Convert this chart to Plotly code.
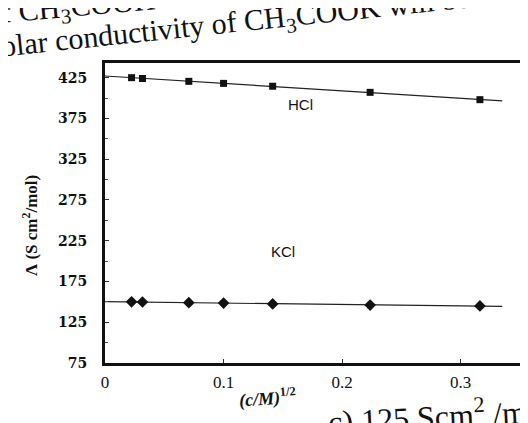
import numpy as np
import plotly.graph_objects as go

# data
sqrt_c = [0.0224, 0.0316, 0.0707, 0.1000, 0.1414, 0.2236, 0.3162]
hcl = [425.0, 424.0, 420.5, 418.0, 414.5, 407.0, 398.0]
kcl = [150.0, 149.8, 149.0, 148.5, 147.5, 146.0, 145.0]
y_ticks = [75, 125, 175, 225, 275, 325, 375, 425]
x_ticks = [0, 0.1, 0.2, 0.3]
x_tick_labels = ["0", "0.1", "0.2", "0.3"]

W, H = 528, 423
L, R, T, B = 97, 16, 55, 68
PW = W - L - R
PH = H - T - B

def px(x):
    return (x - L) / PW

def py(y):
    return 1 - (y - T) / PH

serif = "Liberation Serif"
sans = "Liberation Sans"

fig = go.Figure()

fit_x = np.array([0.0, 0.335])
for vals, sym, size in [(hcl, "square", 7), (kcl, "diamond", 9)]:
    k, b0 = np.polyfit(sqrt_c, vals, 1)
    fig.add_trace(go.Scatter(x=fit_x, y=k * fit_x + b0, mode="lines",
                             line=dict(color="#222", width=1.2),
                             showlegend=False, hoverinfo="skip"))
    fig.add_trace(go.Scatter(x=sqrt_c, y=vals, mode="markers",
                             marker=dict(symbol=sym, size=size, color="#111"),
                             showlegend=False))

axis_common = dict(showline=True, linecolor="#111", linewidth=3, mirror=True,
                   ticks="inside", tickcolor="#333", ticklen=4, showgrid=False,
                   zeroline=False)

fig.update_xaxes(range=[0, 0.35], tickvals=x_ticks, ticktext=x_tick_labels,
                 ticklabelstandoff=2,
                 tickfont=dict(family=serif, size=17, color="#111"), **axis_common)
fig.update_yaxes(range=[75, 443], tickvals=y_ticks, ticklabelstandoff=12,
                 tickfont=dict(family="DejaVu Serif", size=14, color="#111", weight="bold"),
                 minor=dict(ticks="inside", ticklen=3, dtick=25, tickcolor="#555"),
                 **axis_common)

def note(xp, yp, text, size, family=serif, angle=0, xanchor="center"):
    return dict(x=px(xp), y=py(yp), xref="paper", yref="paper", text=text,
                showarrow=False, xanchor=xanchor, yanchor="middle",
                font=dict(family=family, size=size, color="#111"), textangle=angle)

ann = [
    dict(x=0.165, y=392, xref="x", yref="y", text="HCl", showarrow=False,
         xanchor="center", yanchor="middle",
         font=dict(family=sans, size=15, color="#111")),
    dict(x=0.15, y=212, xref="x", yref="y", text="KCl", showarrow=False,
         xanchor="center", yanchor="middle",
         font=dict(family=sans, size=15, color="#111")),
    note(22, 218, "<b>Λ (S cm<sup>2</sup>/mol)</b>", 17, angle=-90),
    note(259, 390, "<b><i>(c/M)</i><sup>1/2</sup></b>", 18, angle=-4),
    note(227, 16, "olar conductivity of CH<sub>3</sub>COOK will be", 30, angle=-6),
    note(70, 0, "f CH<sub>3</sub>COOH", 30, angle=-5),
    note(317, 406, "c) 125 Scm<sup>2</sup> /mol", 32, angle=-3, xanchor="left"),
]

fig.update_layout(width=W, height=H, margin=dict(l=L, r=R, t=T, b=B),
                  paper_bgcolor="white", plot_bgcolor="white",
                  annotations=ann, showlegend=False)

fig.write_html("out.html")
